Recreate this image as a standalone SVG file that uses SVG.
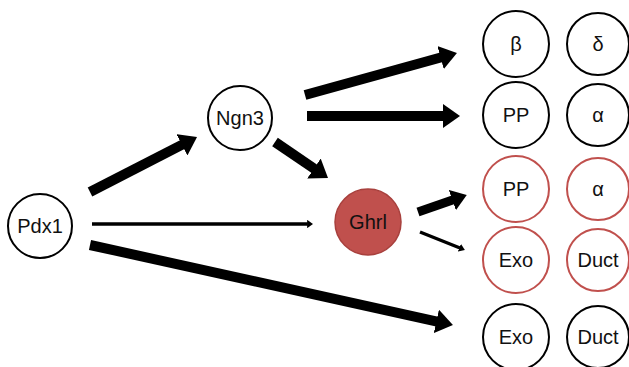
<svg xmlns="http://www.w3.org/2000/svg" width="629" height="367" viewBox="0 0 629 367">
<style>
  .n { fill: #fff; stroke: #000; stroke-width: 2; }
  .r { fill: #fff; stroke: #c0504d; stroke-width: 2; }
  .g { fill: #c0504d; stroke: #a8403d; stroke-width: 1.5; }
  text { font-family: "Liberation Sans", Arial, sans-serif; font-size: 20px; fill: #111; text-anchor: middle; dominant-baseline: central; }
  .thick { stroke: #000; stroke-width: 10; fill: none; marker-end: url(#ah); }
  .mid { stroke: #000; stroke-width: 9; fill: none; marker-end: url(#ah); }
  .thin { stroke: #000; stroke-width: 3.5; fill: none; marker-end: url(#ah); }
</style>
<defs>
  <marker id="ah" viewBox="0 0 1.7 2.4" refX="0.2" refY="1.2" markerWidth="1.7" markerHeight="2.4" orient="auto" markerUnits="strokeWidth">
    <path d="M0,0 L1.7,1.2 L0,2.4 Z" fill="#000"/>
  </marker>
</defs>
<rect width="629" height="367" fill="#fff"/>
<g id="connectors">
  <line class="thick" x1="90" y1="192" x2="183.7" y2="143.9"/>
  <line class="thin" x1="92" y1="224" x2="307.8" y2="224"/>
  <line class="thick" x1="90" y1="245" x2="438.3" y2="321.8"/>
  <line class="thick" x1="275" y1="142" x2="315.6" y2="169.6"/>
  <line class="thick" x1="305" y1="95" x2="442.5" y2="57"/>
  <line class="thick" x1="307" y1="116" x2="445" y2="116"/>
  <line class="mid" x1="418" y1="212" x2="454" y2="199.5"/>
  <line class="thin" x1="420" y1="232" x2="460" y2="248"/>
</g>
<g id="pdx1"><circle class="n" cx="40" cy="226" r="32"/><text x="40" y="226">Pdx1</text></g>
<g id="ngn3"><circle class="n" cx="240" cy="118" r="32"/><text x="240" y="118">Ngn3</text></g>
<g id="ghrl"><circle class="g" cx="368" cy="222" r="33"/><text x="368" y="222">Ghrl</text></g>
<g id="beta"><circle class="n" cx="516" cy="44" r="33"/><text x="516" y="44">β</text></g>
<g id="delta"><circle class="n" cx="598" cy="44" r="31"/><text x="598" y="44">δ</text></g>
<g id="pp1"><circle class="n" cx="516" cy="115" r="33"/><text x="516" y="115">PP</text></g>
<g id="alpha1"><circle class="n" cx="598" cy="115" r="31"/><text x="598" y="115">α</text></g>
<g id="pp2"><circle class="r" cx="516" cy="189" r="33"/><text x="516" y="189">PP</text></g>
<g id="alpha2"><circle class="r" cx="598" cy="189" r="31"/><text x="598" y="189">α</text></g>
<g id="exo2"><circle class="r" cx="516" cy="260" r="33"/><text x="516" y="260">Exo</text></g>
<g id="duct2"><circle class="r" cx="598" cy="260" r="31"/><text x="598" y="260">Duct</text></g>
<g id="exo1"><circle class="n" cx="516" cy="337" r="33"/><text x="516" y="337">Exo</text></g>
<g id="duct1"><circle class="n" cx="598" cy="337" r="31"/><text x="598" y="337">Duct</text></g>
</svg>
